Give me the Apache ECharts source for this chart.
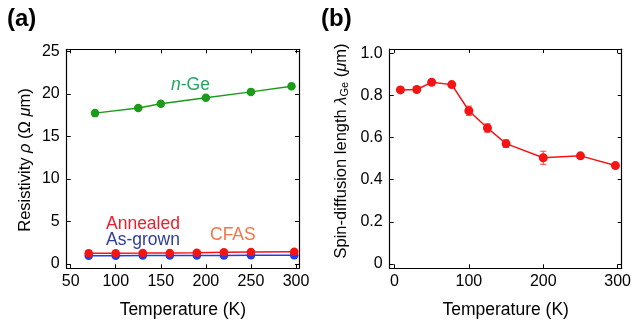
<!DOCTYPE html>
<html>
<head>
<meta charset="utf-8">
<script src="https://cdn.jsdelivr.net/npm/echarts@6/dist/echarts.min.js"></script>
<style>
  html, body { margin: 0; padding: 0; background: #fff; }
  #chart { width: 634px; height: 329px; }
</style>
</head>
<body>
<div id="chart"></div>
<script>
// (a) 电阻率数据
const nGeTemp = [77, 125, 150, 200, 250, 295]
const nGeRho = [17.75, 18.35, 18.85, 19.55, 20.25, 20.9]
const cfasTemp = [70, 100, 130, 160, 190, 220, 250, 298]
const annealedRho = [1.25, 1.27, 1.28, 1.30, 1.32, 1.37, 1.40, 1.45]
const asGrownRho = [0.98, 0.98, 0.99, 0.99, 1.0, 1.01, 1.02, 1.03]

// (b) 自旋扩散长度
const lambdaTemp = [8, 30, 50, 77, 100, 125, 150, 200, 250, 297]
const lambdaVal = [0.826, 0.828, 0.862, 0.851, 0.727, 0.645, 0.571, 0.504, 0.513, 0.467]
const lambdaErr = [0.012, 0.01, 0.01, 0.01, 0.022, 0.02, 0.018, 0.031, 0.01, 0.008]

// 刻度
const aTicksX = [50, 100, 150, 200, 250, 300]
const aTicksY = [0, 5, 10, 15, 20, 25]
const bTicksX = [0, 100, 200, 300]
const bTicksY = [0, 0.2, 0.4, 0.6, 0.8, 1.0]

const FONT = '"Liberation Sans", Arial, Helvetica, sans-serif'

const zip = (xs, ys) => xs.map((x, i) => [x, ys[i]])

// 四边框坐标轴：主轴带标签，副轴只画刻度
function makeAxis(gridIndex, pos, min, max, ticks, withLabel, name, gap, fmt) {
    const axis = {
        type: 'value',
        gridIndex: gridIndex,
        position: pos,
        min: min,
        max: max,
        axisLine: { show: true, onZero: false, lineStyle: { color: '#000', width: 1.2 } },
        axisTick: { show: true, inside: true, length: 4, customValues: ticks, lineStyle: { color: '#000', width: 1 } },
        axisLabel: {
            show: withLabel,
            customValues: ticks,
            color: '#000',
            fontSize: 16,
            fontFamily: FONT,
            margin: (pos === 'left' || pos === 'right') ? 7 : 5
        },
        splitLine: { show: false }
    }
    if (fmt) axis.axisLabel.formatter = fmt
    if (name) {
        axis.name = name
        axis.nameLocation = 'middle'
        axis.nameGap = gap
        axis.nameTextStyle = { color: '#000', fontSize: 17.5, fontFamily: FONT }
    }
    return axis
}

// 0 显示为 "0"，其余保留一位小数
const oneDecimal = v => (v === 0 ? '0' : v.toFixed(1))

const chart = echarts.init(document.getElementById('chart'), null, { renderer: 'canvas' })

const option = {
    animation: false,
    backgroundColor: '#fff',
    grid: [
        { left: 66.7, top: 49.3, width: 232.3, height: 219 },
        { left: 389.7, top: 49, width: 233.6, height: 219.3 }
    ],
    xAxis: [
        makeAxis(0, 'bottom', 45.6, 303.3, aTicksX, true, 'Temperature (K)', 33),
        makeAxis(0, 'top', 45.6, 303.3, aTicksX, false),
        makeAxis(1, 'bottom', -6.4, 305.5, bTicksX, true, 'Temperature (K)', 33),
        makeAxis(1, 'top', -6.4, 305.5, bTicksX, false)
    ],
    yAxis: [
        makeAxis(0, 'left', -0.51, 25.26, aTicksY, true),
        makeAxis(0, 'right', -0.51, 25.26, aTicksY, false),
        makeAxis(1, 'left', -0.0204, 1.02, bTicksY, true, null, 0, oneDecimal),
        makeAxis(1, 'right', -0.0204, 1.02, bTicksY, false)
    ],
    series: [
        {
            name: 'n-Ge',
            type: 'line',
            xAxisIndex: 0, yAxisIndex: 0,
            data: zip(nGeTemp, nGeRho),
            symbol: 'circle', symbolSize: 8.5,
            itemStyle: { color: '#1a9c1a' },
            lineStyle: { color: '#1a9c1a', width: 1.5 }
        },
        {
            name: 'As-grown',
            type: 'line',
            xAxisIndex: 0, yAxisIndex: 0,
            data: zip(cfasTemp, asGrownRho),
            symbol: 'circle', symbolSize: 8.5,
            itemStyle: { color: '#1f3cf0' },
            lineStyle: { color: '#1f3cf0', width: 1.5 }
        },
        {
            name: 'Annealed',
            type: 'line',
            xAxisIndex: 0, yAxisIndex: 0,
            data: zip(cfasTemp, annealedRho),
            symbol: 'circle', symbolSize: 8.5,
            itemStyle: { color: '#f51414' },
            lineStyle: { color: '#f51414', width: 1.5 }
        },
        {
            name: 'lambda',
            type: 'line',
            xAxisIndex: 2, yAxisIndex: 2,
            data: zip(lambdaTemp, lambdaVal),
            symbol: 'circle', symbolSize: 9,
            itemStyle: { color: '#f51414' },
            lineStyle: { color: '#f51414', width: 1.5 },
            z: 3
        },
        {
            // 误差棒
            name: 'lambdaErr',
            type: 'custom',
            xAxisIndex: 2, yAxisIndex: 2,
            data: lambdaTemp.map((t, i) => [t, lambdaVal[i] - lambdaErr[i], lambdaVal[i] + lambdaErr[i]]),
            renderItem: function (params, api) {
                const lo = api.coord([api.value(0), api.value(1)])
                const hi = api.coord([api.value(0), api.value(2)])
                const w = 3
                const style = { stroke: '#f54040', lineWidth: 1 }
                return {
                    type: 'group',
                    children: [
                        { type: 'line', shape: { x1: lo[0], y1: lo[1], x2: hi[0], y2: hi[1] }, style: style },
                        { type: 'line', shape: { x1: lo[0] - w, y1: lo[1], x2: lo[0] + w, y2: lo[1] }, style: style },
                        { type: 'line', shape: { x1: hi[0] - w, y1: hi[1], x2: hi[0] + w, y2: hi[1] }, style: style }
                    ]
                }
            },
            z: 2
        }
    ],
    graphic: [
        { type: 'text', x: 7, y: 19, style: { text: '(a)', font: 'bold 24px ' + FONT, fill: '#000', verticalAlign: 'middle' } },
        { type: 'text', x: 321, y: 19, style: { text: '(b)', font: 'bold 24px ' + FONT, fill: '#000', verticalAlign: 'middle' } },
        {
            type: 'text', x: 25, y: 160, rotation: Math.PI / 2,
            style: {
                text: '{t|Resistivity }{i|ρ}{t| (Ω }{i|μ}{t|m)}',
                align: 'center', verticalAlign: 'middle', fill: '#000',
                rich: {
                    t: { fontSize: 16.5, fontFamily: FONT, fill: '#000' },
                    i: { fontSize: 16.5, fontFamily: FONT, fontStyle: 'italic', fill: '#000' }
                }
            }
        },
        {
            type: 'text', x: 341, y: 151, rotation: Math.PI / 2,
            style: {
                text: '{t|Spin-diffusion length }{i|λ}{s|Ge}{t| (}{i|μ}{t|m)}',
                align: 'center', verticalAlign: 'middle', fill: '#000',
                rich: {
                    t: { fontSize: 16.5, fontFamily: FONT, fill: '#000' },
                    i: { fontSize: 16.5, fontFamily: FONT, fontStyle: 'italic', fill: '#000' },
                    s: { fontSize: 11, fontFamily: FONT, fill: '#000', padding: [8, 0, 0, 0] }
                }
            }
        },
        {
            type: 'text', x: 171, y: 85,
            style: {
                text: '{i|n}{t|-Ge}', verticalAlign: 'middle',
                rich: {
                    i: { fontSize: 17.5, fontFamily: FONT, fontStyle: 'italic', fill: '#22a85e' },
                    t: { fontSize: 17.5, fontFamily: FONT, fill: '#22a85e' }
                }
            }
        },
        { type: 'text', x: 106, y: 224, style: { text: 'Annealed', font: '17.5px ' + FONT, fill: '#ee1d2c', verticalAlign: 'middle' } },
        { type: 'text', x: 106, y: 240, style: { text: 'As-grown', font: '17.5px ' + FONT, fill: '#2f3d9c', verticalAlign: 'middle' } },
        { type: 'text', x: 210, y: 235, style: { text: 'CFAS', font: '17.5px ' + FONT, fill: '#f47545', verticalAlign: 'middle' } }
    ]
}

chart.setOption(option)
</script>
</body>
</html>
